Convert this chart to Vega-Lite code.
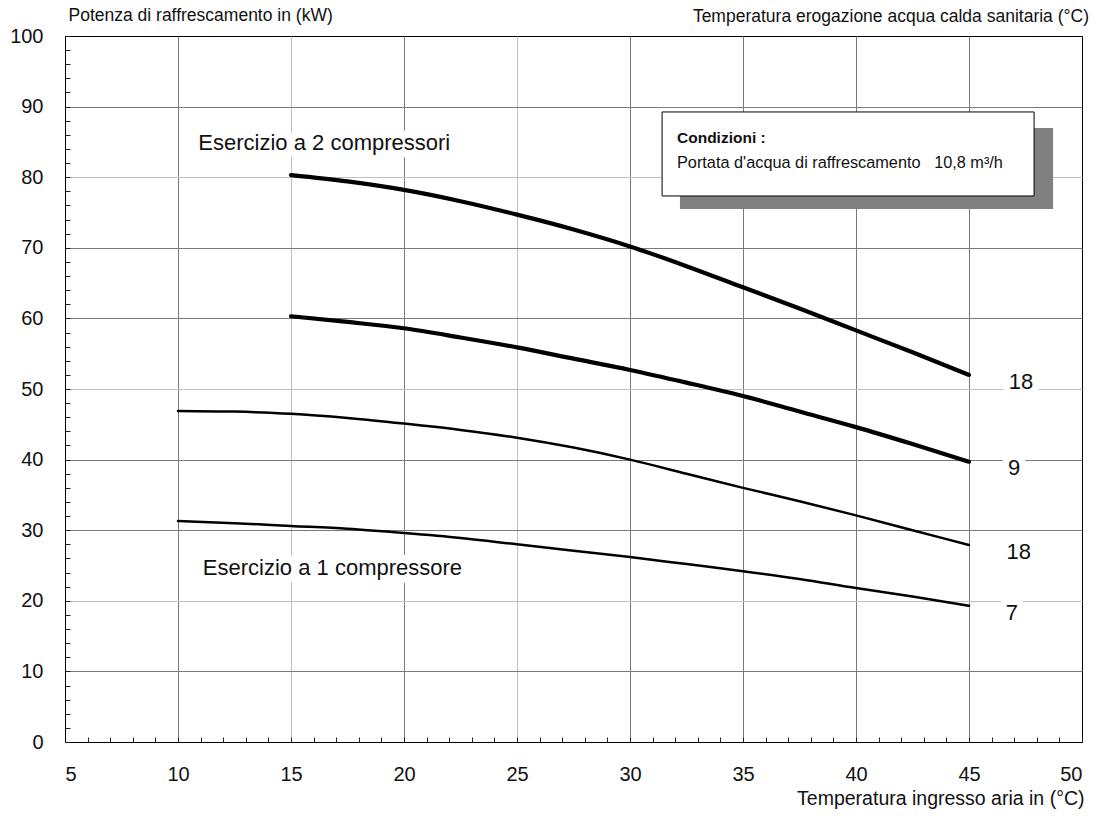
{
  "$schema": "https://vega.github.io/schema/vega-lite/v6.json",
  "width": 1017,
  "height": 706,
  "autosize": {"type": "none"},
  "padding": {"left": 65, "top": 36, "right": 14, "bottom": 75},
  "background": "white",
  "config": {
    "font": "Liberation Sans",
    "view": {"stroke": "black", "strokeWidth": 1},
    "axis": {"labelFont": "Liberation Sans", "titleFont": "Liberation Sans", "labelColor": "#111", "titleColor": "#111"}
  },
  "title": {
    "text": "Temperatura erogazione acqua calda sanitaria (°C)",
    "anchor": "end",
    "fontSize": 17.5,
    "fontWeight": "normal",
    "font": "Liberation Sans",
    "color": "#111",
    "offset": 9,
    "dx": 5,
    "dy": 28
  },
  "datasets": {
    "curves": [
      {"serie": "A", "comp": "2", "t": 15, "p": 80.3},
      {"serie": "A", "comp": "2", "t": 17.5, "p": 79.4},
      {"serie": "A", "comp": "2", "t": 20, "p": 78.2},
      {"serie": "A", "comp": "2", "t": 22.5, "p": 76.6},
      {"serie": "A", "comp": "2", "t": 25, "p": 74.7},
      {"serie": "A", "comp": "2", "t": 27.5, "p": 72.6},
      {"serie": "A", "comp": "2", "t": 30, "p": 70.2},
      {"serie": "A", "comp": "2", "t": 32.5, "p": 67.4},
      {"serie": "A", "comp": "2", "t": 35, "p": 64.4},
      {"serie": "A", "comp": "2", "t": 37.5, "p": 61.4},
      {"serie": "A", "comp": "2", "t": 40, "p": 58.3},
      {"serie": "A", "comp": "2", "t": 42.5, "p": 55.2},
      {"serie": "A", "comp": "2", "t": 45, "p": 52.0},
      {"serie": "B", "comp": "2", "t": 15, "p": 60.3},
      {"serie": "B", "comp": "2", "t": 17.5, "p": 59.5},
      {"serie": "B", "comp": "2", "t": 20, "p": 58.6},
      {"serie": "B", "comp": "2", "t": 22.5, "p": 57.3},
      {"serie": "B", "comp": "2", "t": 25, "p": 55.9},
      {"serie": "B", "comp": "2", "t": 27.5, "p": 54.3},
      {"serie": "B", "comp": "2", "t": 30, "p": 52.7},
      {"serie": "B", "comp": "2", "t": 32.5, "p": 50.9},
      {"serie": "B", "comp": "2", "t": 35, "p": 49.0},
      {"serie": "B", "comp": "2", "t": 37.5, "p": 46.8},
      {"serie": "B", "comp": "2", "t": 40, "p": 44.6},
      {"serie": "B", "comp": "2", "t": 42.5, "p": 42.2},
      {"serie": "B", "comp": "2", "t": 45, "p": 39.7},
      {"serie": "C", "comp": "1", "t": 10, "p": 46.9},
      {"serie": "C", "comp": "1", "t": 12.5, "p": 46.8},
      {"serie": "C", "comp": "1", "t": 15, "p": 46.5},
      {"serie": "C", "comp": "1", "t": 17.5, "p": 45.9},
      {"serie": "C", "comp": "1", "t": 20, "p": 45.1},
      {"serie": "C", "comp": "1", "t": 22.5, "p": 44.2},
      {"serie": "C", "comp": "1", "t": 25, "p": 43.1},
      {"serie": "C", "comp": "1", "t": 27.5, "p": 41.7},
      {"serie": "C", "comp": "1", "t": 30, "p": 40.0},
      {"serie": "C", "comp": "1", "t": 32.5, "p": 38.0},
      {"serie": "C", "comp": "1", "t": 35, "p": 36.0},
      {"serie": "C", "comp": "1", "t": 37.5, "p": 34.1},
      {"serie": "C", "comp": "1", "t": 40, "p": 32.1},
      {"serie": "C", "comp": "1", "t": 42.5, "p": 30.0},
      {"serie": "C", "comp": "1", "t": 45, "p": 27.9},
      {"serie": "D", "comp": "1", "t": 10, "p": 31.3},
      {"serie": "D", "comp": "1", "t": 12.5, "p": 31.0},
      {"serie": "D", "comp": "1", "t": 15, "p": 30.6},
      {"serie": "D", "comp": "1", "t": 17.5, "p": 30.2},
      {"serie": "D", "comp": "1", "t": 20, "p": 29.6},
      {"serie": "D", "comp": "1", "t": 22.5, "p": 28.9},
      {"serie": "D", "comp": "1", "t": 25, "p": 28.0},
      {"serie": "D", "comp": "1", "t": 27.5, "p": 27.1},
      {"serie": "D", "comp": "1", "t": 30, "p": 26.2},
      {"serie": "D", "comp": "1", "t": 32.5, "p": 25.2},
      {"serie": "D", "comp": "1", "t": 35, "p": 24.2},
      {"serie": "D", "comp": "1", "t": 37.5, "p": 23.1},
      {"serie": "D", "comp": "1", "t": 40, "p": 21.8},
      {"serie": "D", "comp": "1", "t": 42.5, "p": 20.6},
      {"serie": "D", "comp": "1", "t": 45, "p": 19.3}
    ],
    "endLabels": [
      {"t": 47.3, "p": 51.0, "label": "18"},
      {"t": 47.0, "p": 38.8, "label": "9"},
      {"t": 47.2, "p": 26.9, "label": "18"},
      {"t": 46.9, "p": 18.3, "label": "7"}
    ],
    "modeLabels": [
      {"t": 10.9, "p": 84.8, "label": "Esercizio a 2 compressori"},
      {"t": 11.1, "p": 24.6, "label": "Esercizio a 1 compressore"}
    ],
    "box": [
      {"t1": 31.42, "t2": 47.88, "p1": 89.24, "p2": 77.34}
    ],
    "shadow": [
      {"t1": 32.21, "t2": 48.72, "p1": 86.97, "p2": 75.5}
    ],
    "boxTitle": [
      {"t": 32.08, "p": 85.55, "label": "Condizioni :"}
    ],
    "boxText": [
      {"t": 32.08, "p": 82.0, "label": "Portata d'acqua di raffrescamento\u00a0\u00a0\u00a010,8 m³/h"}
    ]
  },
  "layer": [
    {
      "data": {"name": "curves"},
      "mark": {"type": "line", "interpolate": "monotone", "color": "black", "strokeCap": "round"},
      "encoding": {
        "x": {
          "field": "t", "type": "quantitative",
          "scale": {"domain": [5, 50], "nice": false, "zero": false},
          "axis": {
            "title": "Temperatura ingresso aria in (°C)",
            "titleFontSize": 19.5, "titleFontWeight": "normal",
            "titleAnchor": "end", "titleAlign": "right", "titlePadding": 5, "titleX": 1019,
            "values": [5,6,7,8,9,10,11,12,13,14,15,16,17,18,19,20,21,22,23,24,25,26,27,28,29,30,31,32,33,34,35,36,37,38,39,40,41,42,43,44,45,46,47,48,49,50],
            "tickCount": 500,
            "format": "d",
            "labelExpr": "datum.value % 5 === 0 ? datum.label : ''",
            "labelOverlap": false,
            "labelFontSize": 20,
            "labelPadding": 27,
            "tickSize": -5,
            "tickColor": "#222",
            "domainColor": "black",
            "grid": true,
            "gridColor": {"condition": {"test": "datum.value === 15 || datum.value === 25", "value": "#c0c0c0"}, "value": "#7a7a7a"},
            "gridOpacity": {"condition": {"test": "datum.value % 5 === 0 && datum.value > 5 && datum.value < 50", "value": 1}, "value": 0}
          }
        },
        "y": {
          "field": "p", "type": "quantitative",
          "scale": {"domain": [0, 100], "nice": false},
          "axis": {
            "title": "Potenza di raffrescamento in (kW)",
            "titleFontSize": 17.5, "titleFontWeight": "normal",
            "titleAngle": 0, "titleAlign": "left", "titleBaseline": "middle",
            "titleX": 3, "titleY": -21,
            "values": [0,2,4,6,8,10,12,14,16,18,20,22,24,26,28,30,32,34,36,38,40,42,44,46,48,50,52,54,56,58,60,62,64,66,68,70,72,74,76,78,80,82,84,86,88,90,92,94,96,98,100],
            "tickCount": 500,
            "format": "d",
            "labelExpr": "datum.value % 10 === 0 ? datum.label : ''",
            "labelOverlap": false,
            "labelFontSize": 20,
            "labelPadding": 27,
            "tickSize": -5,
            "tickColor": "#222",
            "domainColor": "black",
            "grid": true,
            "gridColor": {"condition": {"test": "datum.value === 80 || datum.value === 50 || datum.value === 20", "value": "#c0c0c0"}, "value": "#7a7a7a"},
            "gridOpacity": {"condition": {"test": "datum.value % 10 === 0 && datum.value > 0 && datum.value < 100", "value": 1}, "value": 0}
          }
        },
        "detail": {"field": "serie"},
        "strokeWidth": {"field": "comp", "type": "nominal", "scale": {"domain": ["2", "1"], "range": [4.2, 2.5]}, "legend": null}
      }
    },
    {
      "data": {"name": "shadow"},
      "mark": {"type": "rect", "fill": "#808080"},
      "encoding": {
        "x": {"field": "t1", "type": "quantitative"},
        "x2": {"field": "t2"},
        "y": {"field": "p1", "type": "quantitative"},
        "y2": {"field": "p2"}
      }
    },
    {
      "data": {"name": "box"},
      "mark": {"type": "rect", "fill": "white", "stroke": "black", "strokeWidth": 1},
      "encoding": {
        "x": {"field": "t1", "type": "quantitative"},
        "x2": {"field": "t2"},
        "y": {"field": "p1", "type": "quantitative"},
        "y2": {"field": "p2"}
      }
    },
    {
      "data": {"name": "boxTitle"},
      "mark": {"type": "text", "align": "left", "baseline": "middle", "fontSize": 15.5, "fontWeight": "bold", "color": "#111"},
      "encoding": {
        "x": {"field": "t", "type": "quantitative"},
        "y": {"field": "p", "type": "quantitative"},
        "text": {"field": "label"}
      }
    },
    {
      "data": {"name": "boxText"},
      "mark": {"type": "text", "align": "left", "baseline": "middle", "fontSize": 16.3, "color": "#111"},
      "encoding": {
        "x": {"field": "t", "type": "quantitative"},
        "y": {"field": "p", "type": "quantitative"},
        "text": {"field": "label"}
      }
    },
    {
      "data": {"name": "modeLabels"},
      "mark": {"type": "text", "align": "left", "baseline": "middle", "fontSize": 22, "fill": "white", "stroke": "white", "strokeWidth": 16, "strokeJoin": "round"},
      "encoding": {
        "x": {"field": "t", "type": "quantitative"},
        "y": {"field": "p", "type": "quantitative"},
        "text": {"field": "label"}
      }
    },
    {
      "data": {"name": "modeLabels"},
      "mark": {"type": "text", "align": "left", "baseline": "middle", "fontSize": 22, "color": "#111"},
      "encoding": {
        "x": {"field": "t", "type": "quantitative"},
        "y": {"field": "p", "type": "quantitative"},
        "text": {"field": "label"}
      }
    },
    {
      "data": {"name": "endLabels"},
      "mark": {"type": "text", "align": "center", "baseline": "middle", "fontSize": 22, "fill": "white", "stroke": "white", "strokeWidth": 14, "strokeJoin": "round"},
      "encoding": {
        "x": {"field": "t", "type": "quantitative"},
        "y": {"field": "p", "type": "quantitative"},
        "text": {"field": "label"}
      }
    },
    {
      "data": {"name": "endLabels"},
      "mark": {"type": "text", "align": "center", "baseline": "middle", "fontSize": 22, "color": "#111"},
      "encoding": {
        "x": {"field": "t", "type": "quantitative"},
        "y": {"field": "p", "type": "quantitative"},
        "text": {"field": "label"}
      }
    }
  ]
}
